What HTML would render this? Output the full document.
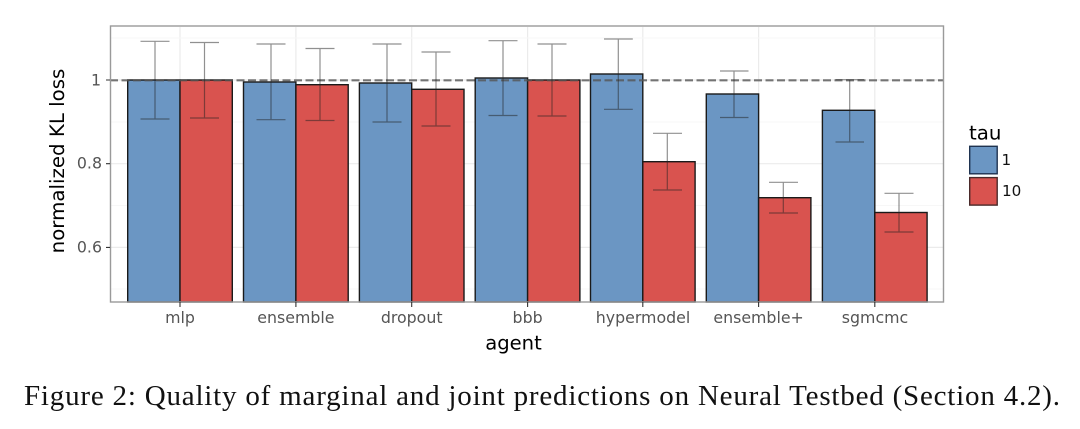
<!DOCTYPE html>
<html>
<head>
<meta charset="utf-8">
<style>
html,body{margin:0;padding:0;background:#fff;width:1080px;height:429px;overflow:hidden}
svg{display:block;filter:blur(0.3px)}
text{font-family:"DejaVu Sans",sans-serif}
</style>
</head>
<body>
<svg width="1080" height="429" viewBox="0 0 1080 429" xmlns="http://www.w3.org/2000/svg">
<rect width="1080" height="429" fill="#fff"/>
<!-- grid -->
<g stroke="#ebebeb" stroke-width="1.2" fill="none">
<path d="M111 80H943M111 163.7H943M111 247.4H943"/>
<path d="M180 27V301M295.9 27V301M411.7 27V301M527.6 27V301M642.8 27V301M758.6 27V301M874.8 27V301"/>
</g>
<g stroke="#f7f7f7" stroke-width="1" fill="none">
<path d="M111 38H943M111 122H943M111 205.5H943M111 289H943"/>
</g>
<!-- bars -->
<g stroke="#1a1a1a" stroke-width="1.4">
<g fill="#6b96c3">
<rect x="127.7" y="80" width="52.3" height="222"/>
<rect x="243.5" y="82" width="52.4" height="220"/>
<rect x="359.4" y="83" width="52.3" height="219"/>
<rect x="475.2" y="78" width="52.4" height="224"/>
<rect x="590.5" y="74" width="52.3" height="228"/>
<rect x="706.3" y="94" width="52.3" height="208"/>
<rect x="822.4" y="110.3" width="52.4" height="191.7"/>
</g>
<g fill="#d9534f">
<rect x="180" y="80" width="52.3" height="222"/>
<rect x="295.9" y="84.7" width="52.3" height="217.3"/>
<rect x="411.7" y="89.3" width="52.3" height="212.7"/>
<rect x="527.6" y="80" width="52.3" height="222"/>
<rect x="642.8" y="161.7" width="52.3" height="140.3"/>
<rect x="758.6" y="197.7" width="52.3" height="104.3"/>
<rect x="874.8" y="212.5" width="52.3" height="89.5"/>
</g>
</g>
<!-- dashed reference -->
<path d="M110 80.3H944" stroke="#555" stroke-opacity=".8" stroke-width="2.2" stroke-dasharray="8 3.5" fill="none"/>
<!-- error bars -->
<g stroke="#222" stroke-opacity=".5" stroke-width="1.2" fill="none">
<path d="M155 41.3V119M140.5 41.3H169.5M140.5 119H169.5"/>
<path d="M204.5 42.5V118M190 42.5H219M190 118H219"/>
<path d="M271 44V119.7M256.5 44H285.5M256.5 119.7H285.5"/>
<path d="M320 48.5V120.5M305.5 48.5H334.5M305.5 120.5H334.5"/>
<path d="M387 44V122M372.5 44H401.5M372.5 122H401.5"/>
<path d="M436 52V126M421.5 52H450.5M421.5 126H450.5"/>
<path d="M503 40.7V115.5M488.5 40.7H517.5M488.5 115.5H517.5"/>
<path d="M552 44V116M537.5 44H566.5M537.5 116H566.5"/>
<path d="M618.3 39V109.3M604 39H632.8M604 109.3H632.8"/>
<path d="M667.3 133.3V190M653 133.3H682M653 190H682"/>
<path d="M734 71V117.5M720 71H748.5M720 117.5H748.5"/>
<path d="M783.3 182.3V213M769 182.3H798M769 213H798"/>
<path d="M849.7 79.7V142M835.5 79.7H864M835.5 142H864"/>
<path d="M899 193.3V232M884.5 193.3H913.5M884.5 232H913.5"/>
</g>
<!-- panel border -->
<rect x="110.5" y="26" width="833" height="276" fill="none" stroke="#9a9a9a" stroke-width="1.4"/>
<!-- ticks -->
<g stroke="#333" stroke-width="1.1" fill="none">
<path d="M106 80H110M106 163.7H110M106 247.4H110"/>
<path d="M180 302V307M295.9 302V307M411.7 302V307M527.6 302V307M642.8 302V307M758.6 302V307M874.8 302V307"/>
</g>
<!-- y labels -->
<g font-size="15.8" fill="#555" text-anchor="end">
<text x="101" y="85.3">1</text>
<text x="102" y="168.7">0.8</text>
<text x="102" y="252.3">0.6</text>
</g>
<!-- x labels -->
<g font-size="15.8" fill="#555" text-anchor="middle">
<text x="180" y="323">mlp</text>
<text x="295.9" y="323">ensemble</text>
<text x="411.7" y="323">dropout</text>
<text x="527.6" y="323">bbb</text>
<text x="643" y="323">hypermodel</text>
<text x="758.6" y="323">ensemble+</text>
<text x="875" y="323">sgmcmc</text>
</g>
<!-- axis titles -->
<text x="513.5" y="349.3" font-size="19.6" fill="#000" text-anchor="middle">agent</text>
<text transform="translate(64 161) rotate(-90)" font-size="19.8" fill="#000" text-anchor="middle">normalized KL loss</text>
<!-- legend -->
<text x="969" y="139.5" font-size="19.8" fill="#000">tau</text>
<rect x="969.7" y="146.3" width="27.5" height="27.5" fill="#6b96c3" stroke="#1f3350" stroke-width="1.4"/>
<rect x="969.7" y="177.6" width="27.5" height="27.5" fill="#d9534f" stroke="#4a2a2a" stroke-width="1.4"/>
<text x="1001.5" y="165" font-size="15.2" fill="#111">1</text>
<text x="1002" y="196.2" font-size="15.2" fill="#111">10</text>
<!-- caption -->
<text x="24" y="405" font-size="29" fill="#111" style="font-family:'Liberation Serif',serif" textLength="1036" lengthAdjust="spacing">Figure 2: Quality of marginal and joint predictions on Neural Testbed (Section 4.2).</text>
</svg>
</body>
</html>
